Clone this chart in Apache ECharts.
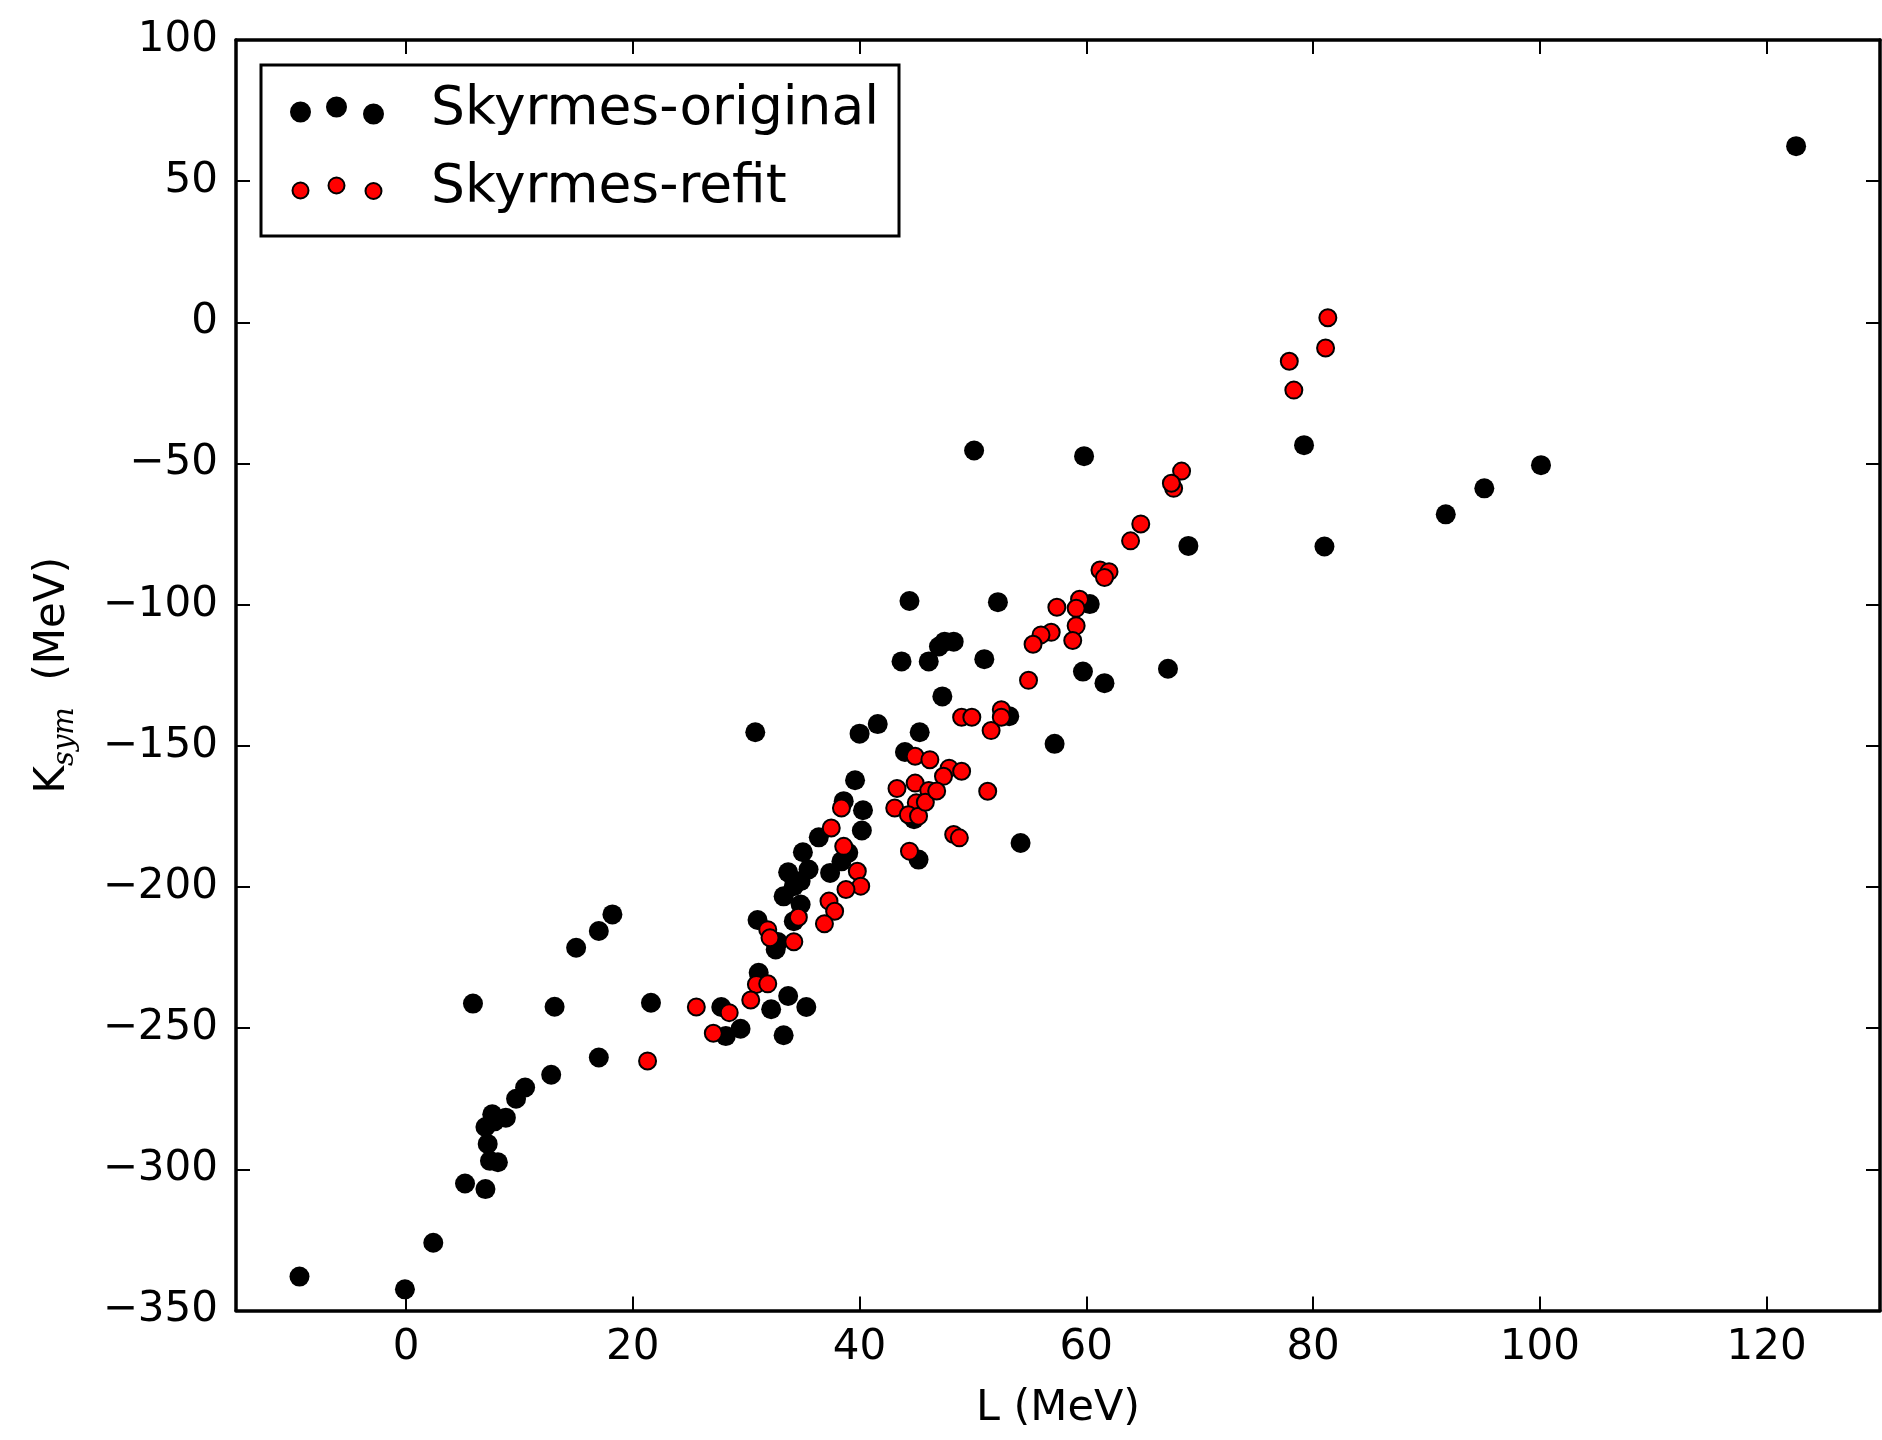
<!DOCTYPE html>
<html>
<head>
<meta charset="utf-8">
<title>Ksym vs L</title>
<script src="https://cdn.jsdelivr.net/npm/echarts@6/dist/echarts.min.js"></script>
<style>
  html, body { margin: 0; padding: 0; background: #ffffff; }
  #chart { width: 1882px; height: 1440px; }
</style>
</head>
<body>
<div id="chart"></div>
<script>
// Slope of the symmetry energy L (MeV) and its curvature K_sym (MeV)
const originalL = [
  -9.4, -0.1, 2.4, 5.2, 7.0,
  7.4, 8.1, 7.2, 7.0, 7.6, 8.8, 7.8, 9.7, 10.5, 12.8, 17.0,
  15.0, 17.0, 18.2, 5.9, 13.1, 21.6,
  30.8, 40.0, 41.6, 45.3, 57.2, 44.0, 39.6, 40.3, 40.2, 38.6, 36.4, 35.0, 33.7, 35.5,
  34.8, 33.3, 34.2, 34.8, 34.2, 37.4, 38.4, 39.0, 31.0, 32.6, 32.8, 31.1, 27.8, 33.7,
  32.2, 35.3, 29.5, 28.2, 33.3, 54.2, 45.2, 53.2, 44.8,
  44.4, 52.2, 47.5, 48.3, 47.0, 43.7, 46.1, 51.0, 47.3, 59.7, 61.6, 67.2, 60.3,
  59.8, 69.0, 79.2, 81.0, 91.7, 95.1, 100.1, 50.1, 122.6
];
const originalK = [
  -338, -342.5, -326, -305, -307,
  -297, -297.5, -291, -285, -280.5, -281.7, -283, -275, -271, -266.5, -260.4,
  -221.5, -215.6, -209.7, -241.3, -242.4, -241,
  -145.2, -145.7, -142.3, -145.2, -149.3, -152.2, -162.2, -172.8, -180.0, -169.6, -182.4, -187.7, -194.8, -193.8,
  -197.9, -203.3, -199.7, -206.2, -212.1, -195, -190.9, -187.9, -211.7, -222.1, -219.5, -230.4, -242.5, -238.6,
  -243.3, -242.5, -250.2, -252.8, -252.5, -184.4, -190.3, -139.5, -176,
  -98.7, -99.1, -113.1, -113.1, -114.8, -120.1, -120.1, -119.3, -132.5, -123.7, -127.8, -122.7, -99.8,
  -47.4, -79.2, -43.5, -79.4, -68.0, -58.8, -50.6, -45.4, 62.4
];
const refitL = [
  21.3, 49.0, 49.9, 52.5, 52.5, 51.6, 44.9, 46.2, 47.9, 49.0, 47.4, 44.9, 46.1, 43.3,
  43.1, 45.0, 44.3, 45.2, 51.3, 48.3, 48.8, 44.4, 38.4, 37.5, 38.6, 39.8, 40.1, 38.8,
  37.3, 37.8, 36.9, 34.6, 34.2, 31.9, 32.1, 30.9, 31.9, 30.4, 25.6, 28.5, 27.1,
  61.2, 62.0, 61.6, 59.4, 59.1, 57.4, 59.1, 58.8, 56.9, 56.0, 55.3, 54.9,
  81.3, 81.1, 77.9, 78.3, 68.4, 67.7, 67.5, 64.8, 63.9, 45.8, 46.8
];
const refitK = [
  -261.6, -139.9, -139.9, -137.2, -139.9, -144.6, -153.7, -154.9, -157.9, -159.0, -160.8, -163.2, -165.8, -165.1,
  -172.0, -170.2, -174.4, -174.9, -166.1, -181.4, -182.6, -187.3, -172.0, -179.1, -185.6, -194.4, -199.7, -200.9,
  -205.0, -208.6, -213.0, -210.7, -219.4, -215.1, -218.0, -234.5, -234.3, -240.0, -242.5, -244.5, -251.8,
  -87.7, -88.3, -90.4, -98.1, -101.3, -100.9, -107.5, -112.7, -109.8, -110.7, -114.0, -126.8,
  1.6, -9.1, -13.8, -24.0, -52.7, -58.8, -57.0, -71.4, -77.4, -170, -166
];
const xTickValues = [0, 20, 40, 60, 80, 100, 120];
const xRange = [-15, 130];
const yRange = [-350, 100];
const yStep = 50;
const seriesNames = ['Skyrmes-original', 'Skyrmes-refit'];

const zip = (xs, ys) => xs.map((x, i) => [x, ys[i]]);
const FONT = 'DejaVu Sans';
const INK = '#000000';

// Three-dot legend keys; the leading moves pin the icon box to 94x28
const dotsBlack = 'path://M0,0M94,28' +
  'M0,15.5a10.5,10.5 0 1,0 21,0a10.5,10.5 0 1,0 -21,0Z' +
  'M36,10.5a10.5,10.5 0 1,0 21,0a10.5,10.5 0 1,0 -21,0Z' +
  'M73,17.5a10.5,10.5 0 1,0 21,0a10.5,10.5 0 1,0 -21,0Z';
const dotsRed = 'path://M0,0M94,28' +
  'M2.5,16a8,8 0 1,0 16,0a8,8 0 1,0 -16,0Z' +
  'M38.5,11a8,8 0 1,0 16,0a8,8 0 1,0 -16,0Z' +
  'M75.5,16.5a8,8 0 1,0 16,0a8,8 0 1,0 -16,0Z';

const frameLine = { show: true, onZero: false, lineStyle: { color: INK, width: 3.5 } };
const innerTick = (vals) => ({
  show: true, inside: true, length: 14,
  customValues: vals,
  lineStyle: { color: INK, width: 2 }
});
const yTicks = [];
for (let v = yRange[0]; v <= yRange[1]; v += yStep) yTicks.push(v);
const minusFmt = (v) => (v < 0 ? '\u2212' + Math.abs(v) : String(v));

const chart = echarts.init(document.getElementById('chart'), null, { renderer: 'canvas' });
chart.setOption({
  animation: false,
  backgroundColor: '#ffffff',
  grid: { left: 236, right: 2, top: 40, bottom: 129.5 },
  legend: {
    orient: 'vertical',
    left: 261,
    top: 65,
    padding: [19, 20, 21, 28],
    itemGap: 25,
    itemWidth: 94,
    itemHeight: 28,
    borderColor: INK,
    borderWidth: 3,
    borderRadius: 0,
    selectedMode: false,
    textStyle: {
      fontFamily: FONT, fontSize: 53.4, color: INK,
      lineHeight: 52, padding: [0, 0, 0, 42]
    },
    data: [
      { name: seriesNames[0], icon: dotsBlack, itemStyle: { color: INK, borderWidth: 0 } },
      { name: seriesNames[1], icon: dotsRed, itemStyle: { color: '#ff0000', borderColor: INK, borderWidth: 2 } }
    ]
  },
  xAxis: [
    {
      type: 'value', position: 'bottom', min: xRange[0], max: xRange[1],
      name: 'L (MeV)', nameLocation: 'middle', nameGap: 77,
      nameTextStyle: { fontFamily: FONT, fontSize: 43, color: INK },
      axisLine: frameLine,
      axisTick: innerTick(xTickValues),
      axisLabel: {
        customValues: xTickValues, margin: 17,
        fontFamily: FONT, fontSize: 42, color: INK
      },
      splitLine: { show: false }
    },
    {
      type: 'value', position: 'top', min: xRange[0], max: xRange[1],
      axisLine: frameLine,
      axisTick: innerTick(xTickValues),
      axisLabel: { show: false },
      splitLine: { show: false }
    }
  ],
  yAxis: [
    {
      type: 'value', position: 'left', min: yRange[0], max: yRange[1], interval: yStep,
      name: '{k|K}{s|sym}{k|  (MeV)}',
      nameLocation: 'middle', nameRotate: 90, nameGap: 160,
      nameTextStyle: {
        rich: {
          k: { fontFamily: FONT, fontSize: 42, color: INK, lineHeight: 46 },
          s: { fontFamily: 'DejaVu Serif', fontStyle: 'italic', fontSize: 29, color: INK,
               lineHeight: 30, padding: [24, 0, 0, 0] }
        }
      },
      axisLine: frameLine,
      axisTick: innerTick(yTicks),
      axisLabel: {
        margin: 18, fontFamily: FONT, fontSize: 42, color: INK,
        formatter: minusFmt
      },
      splitLine: { show: false }
    },
    {
      type: 'value', position: 'right', min: yRange[0], max: yRange[1], interval: yStep,
      axisLine: frameLine,
      axisTick: innerTick(yTicks),
      axisLabel: { show: false },
      splitLine: { show: false }
    }
  ],
  series: [
    {
      name: seriesNames[0], type: 'scatter', xAxisIndex: 0, yAxisIndex: 0,
      symbol: 'circle', symbolSize: 20,
      itemStyle: { color: INK, borderColor: INK, borderWidth: 0, opacity: 1 },
      data: zip(originalL, originalK)
    },
    {
      name: seriesNames[1], type: 'scatter', xAxisIndex: 0, yAxisIndex: 0,
      symbol: 'circle', symbolSize: 17,
      itemStyle: { color: '#ff0000', borderColor: INK, borderWidth: 2, opacity: 1 },
      data: zip(refitL, refitK)
    }
  ]
});
</script>
</body>
</html>
